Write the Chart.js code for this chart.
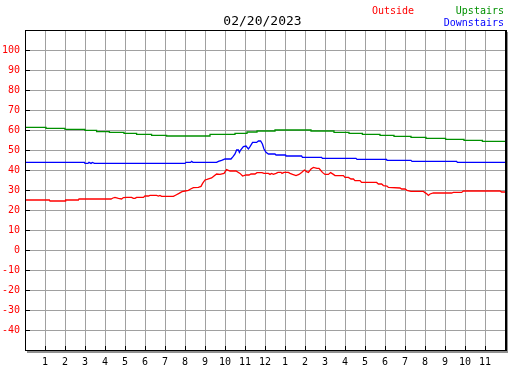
<!DOCTYPE html>
<html>
<head>
<meta charset="utf-8">
<script src="https://cdn.jsdelivr.net/npm/chart.js@4/dist/chart.umd.min.js"></script>
<style>
  html, body { margin: 0; padding: 0; background: #ffffff; }
  #wrap { position: relative; width: 527px; height: 370px; }
  canvas { position: absolute; left: 0; top: 0; }
  .txt { position: absolute; font-family: "DejaVu Sans Mono", monospace; white-space: nowrap; }
  #title { left: 0; width: 525px; text-align: center; top: 14px; font-size: 13px; line-height: 13px; color: #000; }
  #lgOut { left: 372px; top: 6px; font-size: 10px; line-height: 10px; color: #ff0000; }
  #lgUp { right: 23px; top: 6px; font-size: 10px; line-height: 10px; color: #009000; }
  #lgDown { right: 23px; top: 18px; font-size: 10px; line-height: 10px; color: #0000ff; }
</style>
</head>
<body>
<div id="wrap">
  <canvas id="c" width="527" height="370"></canvas>
  <div class="txt" id="title">02/20/2023</div>
  <div class="txt" id="lgOut">Outside</div>
  <div class="txt" id="lgUp">Upstairs</div>
  <div class="txt" id="lgDown">Downstairs</div>
</div>
<script>
// ---- data (hours since midnight, degrees) ----
const hourLabels = ["1","2","3","4","5","6","7","8","9","10","11","12","1","2","3","4","5","6","7","8","9","10","11"];
const yTickValues = [-40,-30,-20,-10,0,10,20,30,40,50,60,70,80,90,100];

const upstairsTimes  = [0,1.05,2.0,3.0,3.58,4.22,4.95,5.58,6.33,7.08,9.25,10.5,11.1,11.6,12.5,14.3,15.45,16.2,16.87,17.75,18.45,19.3,20.05,21.03,21.95,22.87,24];
const upstairsValues = [61.3,60.8,60.3,59.8,59.2,58.8,58.3,57.8,57.3,57.0,57.8,58.3,59.0,59.5,60.0,59.5,58.8,58.3,57.8,57.3,56.8,56.3,55.8,55.3,54.8,54.3,54.3];

const downstairsTimes  = [0,2.97,3.0,3.15,3.2,3.3,3.37,3.47,8.0,8.05,8.28,8.33,8.4,9.58,9.67,9.83,9.92,10.0,10.3,10.4,10.5,10.58,10.67,10.72,10.78,10.92,11.05,11.17,11.25,11.38,11.58,11.67,11.78,11.87,11.95,12.05,12.17,12.5,12.55,13.03,13.05,13.83,13.87,14.83,14.87,16.55,16.6,18.08,18.1,19.3,19.35,21.58,21.62,24];
const downstairsValues = [43.8,43.8,43.3,43.3,43.8,43.3,43.8,43.3,43.3,43.8,43.8,44.3,43.8,43.8,44.3,44.8,45.2,45.5,45.5,46.7,48.0,50.0,50.0,48.8,50.0,51.7,52.0,50.5,51.7,53.8,53.8,54.5,54.5,53.0,50.5,48.8,48.0,48.0,47.5,47.5,47.0,47.0,46.3,46.3,45.8,45.8,45.3,45.3,44.8,44.8,44.3,44.3,43.8,43.8];

const outsideTimes  = [0,1.22,1.25,2.0,2.03,2.67,2.7,4.3,4.4,4.5,4.67,4.83,4.92,5.1,5.33,5.42,5.5,5.58,5.92,6.0,6.17,6.25,6.58,6.67,6.75,6.83,7.42,7.55,7.7,7.85,8.0,8.17,8.28,8.42,8.67,8.8,8.88,9.0,9.1,9.25,9.33,9.45,9.58,9.75,9.95,10.08,10.25,10.55,10.75,10.88,11.05,11.2,11.3,11.5,11.6,11.85,11.95,12.17,12.25,12.33,12.42,12.55,12.65,12.8,12.85,12.95,13.17,13.25,13.38,13.55,13.7,13.83,13.97,14.08,14.17,14.3,14.42,14.6,14.7,14.77,14.87,15.0,15.17,15.28,15.42,15.5,15.92,16.0,16.17,16.3,16.42,16.5,16.75,16.83,17.58,17.67,17.83,17.92,18.1,18.17,18.75,18.83,19.0,19.1,19.3,19.6,19.92,20.0,20.1,20.17,20.25,20.42,21.33,21.42,21.83,21.92,23.75,23.83,24];
const outsideValues = [25.0,25.0,24.5,24.5,25.0,25.0,25.5,25.5,26.0,26.3,25.8,25.5,26.2,26.3,26.3,25.8,25.8,26.3,26.3,27.0,27.0,27.3,27.3,27.0,27.3,26.8,26.8,27.5,28.3,29.2,29.5,29.8,30.5,31.2,31.3,31.8,33.3,35.0,35.3,35.8,36.0,37.0,38.0,37.8,38.3,40.2,39.5,39.5,38.3,37.0,37.5,37.5,38.0,38.0,38.7,38.7,38.3,38.3,37.8,38.3,37.8,38.3,38.8,38.8,38.3,38.8,38.8,38.3,37.8,37.2,37.8,38.8,40.0,39.2,38.8,40.5,41.3,40.8,40.8,40.0,38.8,37.8,37.8,38.7,37.8,37.2,37.2,36.3,36.3,35.5,35.5,34.7,34.7,33.8,33.8,33.0,33.0,32.2,32.0,31.3,31.0,30.5,30.5,29.8,29.3,29.3,29.3,28.7,28.0,27.3,28.0,28.5,28.5,28.8,28.8,29.5,29.5,29.0,29.0];

function pts(ts, vs) { return ts.map((t, i) => ({ x: t, y: vs[i] })); }

const monoFont = { family: "DejaVu Sans Mono", size: 10 };

const frame = {
  id: 'frame',
  afterDraw(chart) {
    const ctx = chart.ctx;
    const a = chart.chartArea;
    const xs = chart.scales.x, ys = chart.scales.y;
    ctx.save();
    // shadow
    ctx.fillStyle = '#909090';
    ctx.fillRect(a.right + 1, a.top + 2, 2, a.bottom - a.top + 1);
    ctx.fillRect(a.left + 2, a.bottom + 1, a.right - a.left + 1, 2);
    // box
    ctx.strokeStyle = '#000000';
    ctx.lineWidth = 1;
    ctx.strokeRect(Math.round(a.left) + 0.5, Math.round(a.top) + 0.5, Math.round(a.right - a.left), Math.round(a.bottom - a.top));
    ctx.fillStyle = '#000000';
    ctx.fillRect(Math.round(a.right), a.top, 2, a.bottom - a.top + 1);
    ctx.fillRect(a.left, Math.round(a.bottom), a.right - a.left + 2, 1);
    // tick marks
    ctx.beginPath();
    yTickValues.forEach(v => {
      const y = Math.round(ys.getPixelForValue(v)) + 0.5;
      ctx.moveTo(a.left, y); ctx.lineTo(a.left + 5, y);
    });
    hourLabels.forEach((l, i) => {
      const x = Math.round(xs.getPixelForValue(i + 1)) + 0.5;
      ctx.moveTo(x, a.bottom); ctx.lineTo(x, a.bottom - 4);
    });
    ctx.stroke();
    ctx.restore();
  }
};

new Chart(document.getElementById('c'), {
  type: 'line',
  data: {
    datasets: [
      { label: 'Upstairs', data: pts(upstairsTimes, upstairsValues), borderColor: '#009000', borderWidth: 1.3, pointRadius: 0, stepped: true },
      { label: 'Downstairs', data: pts(downstairsTimes, downstairsValues), borderColor: '#0000ff', borderWidth: 1.3, pointRadius: 0, tension: 0 },
      { label: 'Outside', data: pts(outsideTimes, outsideValues), borderColor: '#ff0000', borderWidth: 1.3, pointRadius: 0, tension: 0 }
    ]
  },
  options: {
    responsive: false,
    animation: false,
    events: [],
    layout: { padding: { top: 30, right: 22, left: 0, bottom: 0 } },
    plugins: { legend: { display: false }, title: { display: false }, tooltip: { enabled: false } },
    scales: {
      x: {
        type: 'linear', min: 0, max: 24,
        afterFit(s) { s.height = 20; },
        afterBuildTicks(s) { s.ticks = Array.from({ length: 25 }, (_, i) => ({ value: i })); },
        ticks: {
          autoSkip: false, maxRotation: 0, padding: 6, color: '#000000', font: monoFont,
          callback: (v) => (v >= 1 && v <= 23) ? hourLabels[v - 1] : ''
        },
        grid: { color: '#a0a0a0', lineWidth: 1, drawTicks: false },
        border: { display: false }
      },
      y: {
        type: 'linear', min: -50, max: 110,
        afterFit(s) { s.width = 25; },
        afterBuildTicks(s) { s.ticks = Array.from({ length: 17 }, (_, i) => ({ value: -50 + i * 10 })); },
        ticks: {
          autoSkip: false, padding: 5, color: '#ff0000', font: monoFont,
          callback: (v) => yTickValues.includes(v) ? String(v) : ''
        },
        grid: { color: '#a0a0a0', lineWidth: 1, drawTicks: false },
        border: { display: false }
      }
    }
  },
  plugins: [frame]
});
</script>
</body>
</html>
